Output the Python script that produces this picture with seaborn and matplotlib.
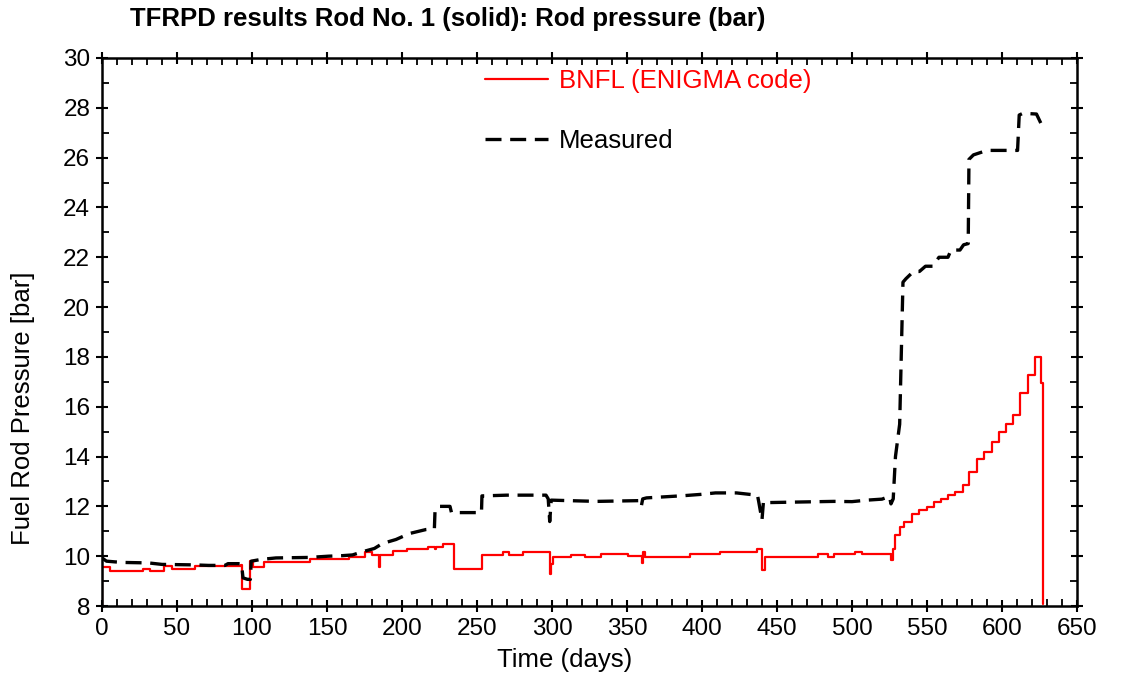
import numpy as np
import pandas as pd
import matplotlib
matplotlib.use("Agg")
import matplotlib.pyplot as plt
from matplotlib.ticker import MultipleLocator
import seaborn as sns

sns.set_style("ticks")
plt.rcParams["font.family"] = ["Liberation Sans", "DejaVu Sans"]
plt.rcParams["text.color"] = "black"
plt.rcParams["axes.labelcolor"] = "black"

# ---------------------------------------------------------------------------
# Data (days, bar)
# ---------------------------------------------------------------------------
# BNFL (ENIGMA code) - step changes: each value holds until the next day
bnfl_days = [0, 0, 5.6, 27.3, 31.8, 41.1, 46.7, 61.8, 92.5, 93.3, 98.9, 100.5,
             107.8, 138.7, 165, 175.3, 179.8, 184.5, 185.5, 194.2, 203.5,
             217.6, 222, 223, 227.1, 234.9, 253.1, 267.1, 271.6, 280.9, 298.7,
             299.5, 300.5, 312.7, 322, 332.7, 350.9, 359.8, 361, 362, 377.6,
             392, 412, 436.9, 440.2, 442, 477.6, 484.2, 488.2, 502, 507,
             526, 527.3, 529, 531.8, 535, 540, 544.9, 550, 554.4, 559.3, 564,
             568.9, 573.8, 578.2, 583.3, 588.2, 593.1, 597.8, 602.7, 607.6,
             612.2, 617.1, 622, 626, 627.1, 627.1]
bnfl_bar = [8.0, 9.57, 9.40, 9.49, 9.40, 9.60, 9.47, 9.60, 9.63, 8.67, 9.80, 9.55,
            9.78, 9.87, 9.98, 10.18, 10.05, 9.55, 10.05, 10.22, 10.29,
            10.38, 10.30, 10.38, 10.49, 9.47, 10.05, 10.18, 10.05, 10.18, 9.29,
            9.70, 9.96, 10.05, 9.96, 10.08, 10.00, 9.74, 10.15, 9.96, 9.98,
            10.08, 10.17, 10.28, 9.45, 9.98, 10.08, 9.98, 10.08, 10.17, 10.07,
            9.86, 10.29, 10.86, 11.17, 11.36, 11.69, 11.86, 11.97, 12.17, 12.29, 12.46,
            12.57, 12.87, 13.37, 13.89, 14.17, 14.60, 14.97, 15.29, 15.68,
            16.57, 17.29, 18.00, 16.97, 16.97, 8.10]

# Measured
meas_days = [0, 3, 13, 31, 40, 62, 71, 82, 84, 93, 94, 97, 98.9, 99.5, 106, 116,
             138, 151, 160, 167, 173.8, 181.6, 187, 196, 205, 216, 221.6, 222,
             224, 232, 233, 253, 253.3, 270, 296, 297.5, 298.5, 299.5, 311, 330,
             358, 359.5, 360.5, 363, 377, 388, 399, 409, 423, 432, 437, 437.8,
             440, 441, 442.7, 488, 500, 510, 520, 525, 526, 527.5, 529, 531.8,
             534, 536, 541, 545, 549, 554, 558, 564, 566, 572, 574.4, 577.5,
             578, 581, 590, 610.4, 611.5, 614, 623, 626.5]
meas_bar = [9.93, 9.80, 9.75, 9.73, 9.67, 9.65, 9.63, 9.63, 9.70, 9.70, 9.13, 9.07,
            9.07, 9.80, 9.87, 9.93, 9.95, 10.00, 10.02, 10.05, 10.18, 10.31,
            10.51, 10.67, 10.91, 11.07, 11.10, 11.79, 12.00, 12.00, 11.75, 11.75,
            12.42, 12.45, 12.45, 12.30, 11.39, 12.25, 12.23, 12.20, 12.23, 11.99,
            12.30, 12.34, 12.39, 12.43, 12.48, 12.54, 12.54, 12.48, 12.45, 12.20,
            11.45, 12.20, 12.15, 12.20, 12.19, 12.25, 12.29, 12.40, 12.10, 12.30,
            14.00, 15.30, 21.00, 21.14, 21.43, 21.43, 21.64, 21.64, 22.00, 22.00,
            22.29, 22.29, 22.50, 22.55, 25.93, 26.11, 26.29, 26.29, 27.71, 27.78,
            27.75, 27.31]

bnfl = pd.DataFrame({"day": bnfl_days, "bar": bnfl_bar})
meas = pd.DataFrame({"day": meas_days, "bar": meas_bar})

# ---------------------------------------------------------------------------
# Plot
# ---------------------------------------------------------------------------
fig = plt.figure(figsize=(11.27, 6.79), dpi=100)
ax = fig.add_axes([0.0905, 0.1075, 0.8651, 0.8071])

sns.lineplot(data=bnfl, x="day", y="bar", ax=ax, color="red", lw=1.6,
             estimator=None, sort=False, drawstyle="steps-post",
             label="BNFL (ENIGMA code)")
sns.lineplot(data=meas, x="day", y="bar", ax=ax, color="black", lw=2.4,
             estimator=None, sort=False, linestyle=(0, (4.8, 2.6)),
             label="Measured")

ax.set_xlim(0, 650)
ax.set_ylim(8, 30)
ax.xaxis.set_major_locator(MultipleLocator(50))
ax.xaxis.set_minor_locator(MultipleLocator(10))
ax.yaxis.set_major_locator(MultipleLocator(2))
ax.yaxis.set_minor_locator(MultipleLocator(1))

for side in ax.spines.values():
    side.set_linewidth(1.8)
    side.set_color("black")
    side.set_visible(True)

ax.tick_params(which="major", direction="inout", length=9, width=1.5,
               top=True, right=True, labelsize=17.5, pad=4, colors="black")
ax.tick_params(which="minor", direction="in", length=5, width=1.3,
               top=True, right=True, colors="black")

ax.set_xlabel("Time (days)", fontsize=18.5)
ax.set_ylabel("Fuel Rod Pressure [bar]", fontsize=18.5)
# label anchors: top edge for x label, right edge for y label
ax.xaxis.set_label_coords(0.475, -0.077)
ax.yaxis.set_label_coords(-0.069, 0.361)

fig.text(0.115, 0.972, "TFRPD results Rod No. 1 (solid): Rod pressure (bar)",
         fontsize=18.5, fontweight="bold", ha="left", va="center")

leg = ax.legend(loc="upper left", bbox_to_anchor=(0.393, 0.98), frameon=False,
                fontsize=18.5, handlelength=2.45, handletextpad=0.42,
                labelspacing=1.42, borderaxespad=0, borderpad=0,
                labelcolor="linecolor")

fig.savefig("out.png", dpi=100)
